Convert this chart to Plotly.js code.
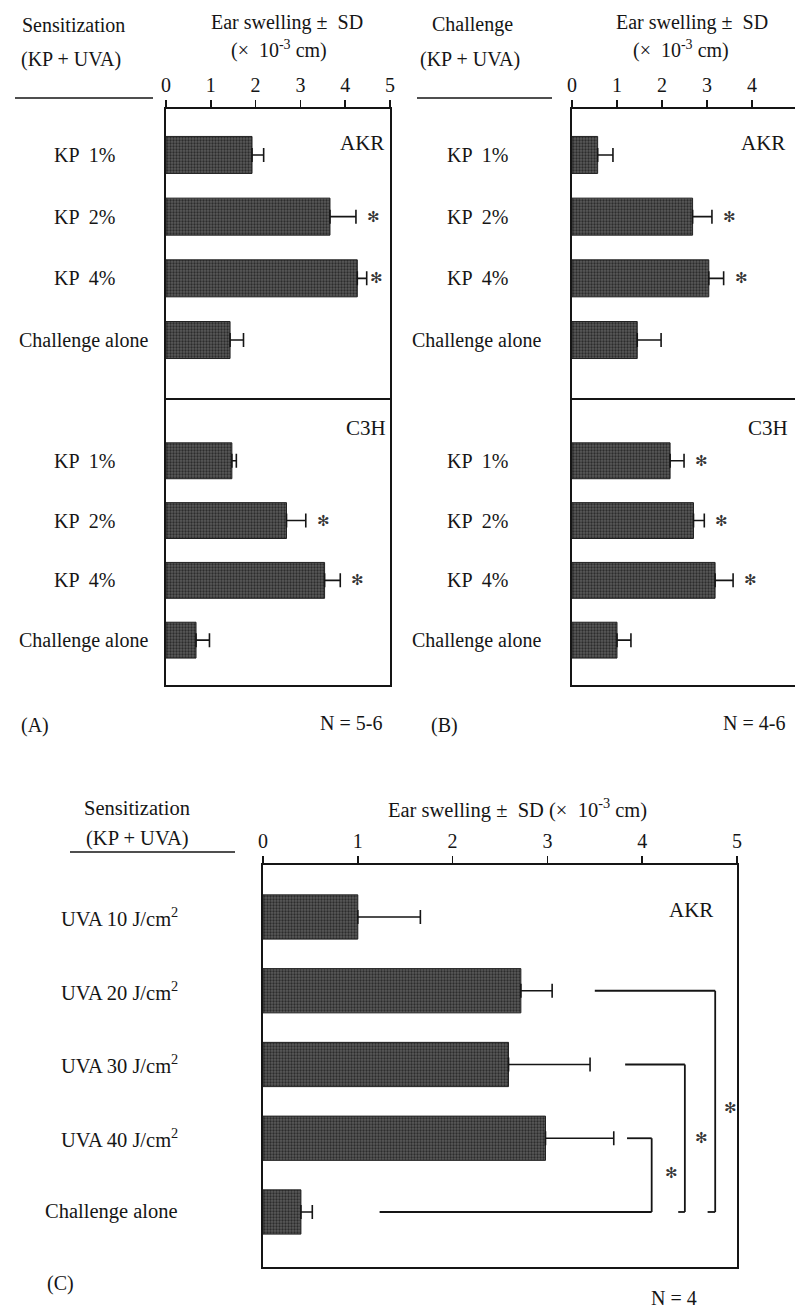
<!DOCTYPE html>
<html><head><meta charset="utf-8">
<script src="https://cdn.plot.ly/plotly-3.0.1.min.js"></script>
<style>html,body{margin:0;padding:0;background:#fff}</style>
</head><body><div id="chart" style="width:795px;height:1308px"></div>
<script>
// ---------- data ----------
const kpCategories = ['KP  1%', 'KP  2%', 'KP  4%', 'Challenge alone'];
const uvaCategories = ['UVA 10 J/cm<sup>2</sup>', 'UVA 20 J/cm<sup>2</sup>', 'UVA 30 J/cm<sup>2</sup>', 'UVA 40 J/cm<sup>2</sup>', 'Challenge alone'];
const xTicks = [0, 1, 2, 3, 4, 5];

// Panel A (sensitization)
const aAkrMean = [1.92, 3.66, 4.27, 1.43];
const aAkrSD   = [0.26, 0.58, 0.21, 0.30];
const aAkrSig  = [false, true, true, false];
const aC3hMean = [1.47, 2.69, 3.54, 0.67];
const aC3hSD   = [0.10, 0.43, 0.35, 0.30];
const aC3hSig  = [false, true, true, false];
// Panel B (challenge)
const bAkrMean = [0.57, 2.68, 3.04, 1.45];
const bAkrSD   = [0.34, 0.43, 0.33, 0.53];
const bAkrSig  = [false, true, true, false];
const bC3hMean = [2.18, 2.70, 3.18, 1.00];
const bC3hSD   = [0.31, 0.24, 0.40, 0.31];
const bC3hSig  = [true, true, true, false];
// Panel C (UVA dose)
const cMean = [1.00, 2.72, 2.59, 2.98, 0.40];
const cSD   = [0.66, 0.33, 0.86, 0.72, 0.12];
// Panel C comparisons vs "Challenge alone"
const cCompFrom = ['UVA 20 J/cm<sup>2</sup>', 'UVA 30 J/cm<sup>2</sup>', 'UVA 40 J/cm<sup>2</sup>'];
const cCompTo = 'Challenge alone';

// ---------- layout helpers ----------
const W = 795, H = 1308;
const fx = p => p / W;
const fy = p => 1 - p / H;
const FONT = 'Liberation Serif, Times New Roman, serif';
const INK = '#151515';
const BAR = '#4e4e4e';

function barTrace(cats, mean, sd, xa, ya) {
  return {
    type: 'bar', orientation: 'h', x: mean, y: cats, xaxis: xa, yaxis: ya,
    width: 0.6,
    marker: { color: BAR, line: { color: '#222', width: 1 },
      pattern: { shape: '.', fgcolor: '#2c2c2c', bgcolor: '#5a5a5a', size: 3, solidity: 0.45 } },
    error_x: { type: 'data', symmetric: false, array: sd, arrayminus: sd.map(() => 0),
      color: INK, thickness: 1.6, width: 7 },
    hoverinfo: 'skip', showlegend: false
  };
}

const data = [
  barTrace(kpCategories, aAkrMean, aAkrSD, 'x', 'y'),
  barTrace(kpCategories, aC3hMean, aC3hSD, 'x2', 'y2'),
  barTrace(kpCategories, bAkrMean, bAkrSD, 'x3', 'y3'),
  barTrace(kpCategories, bC3hMean, bC3hSD, 'x4', 'y4'),
  barTrace(uvaCategories, cMean, cSD, 'x5', 'y5')
];

function xAxis(domain, range, anchor, top) {
  const vals = xTicks.filter(v => v <= range[1] + 1e-9);
  const ax = {
    domain: domain, range: range, anchor: anchor, side: top ? 'top' : 'bottom',
    showline: true, mirror: !!top, linecolor: INK, linewidth: 1.6,
    showgrid: false, zeroline: false, fixedrange: true
  };
  if (top) {
    Object.assign(ax, {
      tickmode: 'array', tickvals: vals, ticktext: vals.map(String),
      showticklabels: true, ticks: 'outside', ticklen: 7, tickwidth: 1.5, tickcolor: INK,
      tickfont: { family: FONT, size: 20, color: INK }
    });
  } else {
    Object.assign(ax, { showticklabels: false, ticks: '', tickmode: 'array', tickvals: [] });
  }
  return ax;
}
function yAxis(domain, range, anchor, cats) {
  return {
    domain: domain, range: range, anchor: anchor, type: 'category',
    categoryorder: 'array', categoryarray: cats,
    showticklabels: false, ticks: '',
    showline: true, mirror: true, linecolor: INK, linewidth: 1.6,
    showgrid: false, zeroline: false, fixedrange: true
  };
}

const layout = {
  width: W, height: H,
  margin: { l: 0, r: 0, t: 0, b: 0, pad: 0 },
  paper_bgcolor: '#fff', plot_bgcolor: 'rgba(0,0,0,0)',
  bargap: 0.4,
  xaxis:  xAxis([fx(166), fx(390)], [0, 5], 'y', true),
  yaxis:  yAxis([fy(398), fy(109)], [3.94, -0.745], 'x', kpCategories),
  xaxis2: xAxis([fx(166), fx(390)], [0, 5], 'y2', false),
  yaxis2: yAxis([fy(685), fy(398)], [3.75, -1.05], 'x2', kpCategories),
  xaxis3: xAxis([fx(572), 1], [0, 4.956], 'y3', true),
  yaxis3: yAxis([fy(398), fy(109)], [3.94, -0.745], 'x3', kpCategories),
  xaxis4: xAxis([fx(572), 1], [0, 4.956], 'y4', false),
  yaxis4: yAxis([fy(685), fy(398)], [3.75, -1.05], 'x4', kpCategories),
  xaxis5: xAxis([fx(263), fx(737)], [0, 5], 'y5', true),
  yaxis5: yAxis([fy(1267), fy(865)], [4.746, -0.705], 'x5', uvaCategories),
  annotations: [], shapes: []
};
const A = layout.annotations, S = layout.shapes;

function txt(text, x, y, opts) {
  A.push(Object.assign({ text: text, x: x, y: y, xref: 'paper', yref: 'paper', showarrow: false,
    xanchor: 'center', yanchor: 'middle', font: { family: FONT, size: 20, color: INK } }, opts || {}));
}

// category labels
kpCategories.forEach(c => {
  txt(c, fx(84), c, { yref: 'y' });
  txt(c, fx(84), c, { yref: 'y2' });
  txt(c, fx(477), c, { yref: 'y3' });
  txt(c, fx(477), c, { yref: 'y4' });
});
uvaCategories.forEach(c => {
  txt(c, fx(180), c, { yref: 'y5', xanchor: 'right', font: { family: FONT, size: 20.5, color: INK } });
});

// significance stars
function stars(mean, sd, sig, xa, ya, cats, maxX) {
  mean.forEach((m, i) => {
    if (!sig[i]) return;
    A.push({ text: '✻', xref: xa, yref: ya, x: Math.min(m + sd[i] + 0.39, maxX), y: cats[i],
      showarrow: false, xanchor: 'center', yanchor: 'middle',
      font: { family: 'DejaVu Sans', size: 15, color: '#333' } });
  });
}
stars(aAkrMean, aAkrSD, aAkrSig, 'x', 'y', kpCategories, 4.7);
stars(aC3hMean, aC3hSD, aC3hSig, 'x2', 'y2', kpCategories, 4.7);
stars(bAkrMean, bAkrSD, bAkrSig, 'x3', 'y3', kpCategories, 4.7);
stars(bC3hMean, bC3hSD, bC3hSig, 'x4', 'y4', kpCategories, 4.7);

// strain labels
const strainFont = { family: FONT, size: 21, color: INK };
txt('AKR', fx(386), fy(143), { xanchor: 'right', font: strainFont });
txt('C3H', fx(388), fy(428), { xanchor: 'right', font: strainFont });
txt('AKR', fx(787), fy(143), { xanchor: 'right', font: strainFont });
txt('C3H', fx(790), fy(428), { xanchor: 'right', font: strainFont });
txt('AKR', fx(715), fy(910), { xanchor: 'right', font: strainFont });

// headers
txt('Sensitization', fx(73), fy(25));
txt('(KP + UVA)', fx(71), fy(60));
txt('Ear swelling ±  SD', fx(287), fy(22));
txt('(×  10<sup>-3</sup> cm)', fx(279), fy(50));
txt('Challenge', fx(472), fy(25));
txt('(KP + UVA)', fx(470), fy(60));
txt('Ear swelling ±  SD', fx(692), fy(22));
txt('(×  10<sup>-3</sup> cm)', fx(681), fy(50));
txt('Sensitization', fx(137), fy(808), { font: { family: FONT, size: 20.5, color: INK } });
txt('(KP + UVA)', fx(137), fy(838), { font: { family: FONT, size: 20.5, color: INK } });
txt('Ear swelling ±  SD (×  10<sup>-3</sup> cm)', fx(517), fy(808), { font: { family: FONT, size: 20.5, color: INK } });

// underlines
function hline(x0, x1, y) {
  S.push({ type: 'line', xref: 'paper', yref: 'paper', x0: fx(x0), x1: fx(x1), y0: fy(y), y1: fy(y),
    line: { color: INK, width: 1.6 } });
}
hline(15, 153, 98);
hline(417, 552, 98);
hline(70, 235, 852);

// footers
txt('(A)', fx(35), fy(725));
txt('N = 5-6', fx(351), fy(723));
txt('(B)', fx(444), fy(725));
txt('N = 4-6', fx(754), fy(723));
txt('(C)', fx(60), fy(1283));
txt('N = 4', fx(674), fy(1298));

// Panel C brackets
const brTop  = [3.50, 3.82, 3.84];
const brV    = [4.77, 4.45, 4.10];
const brFoot = [4.69, 4.38, 1.23];
const brStarX = [4.93, 4.63, 4.31];
const brStarY = [2.59, 3.0, 3.47];
function seg(x0, y0, x1, y1) {
  S.push({ type: 'line', xref: 'x5', yref: 'y5', x0: x0, y0: y0, x1: x1, y1: y1,
    line: { color: INK, width: 1.8 } });
}
cCompFrom.forEach((c, i) => {
  seg(brTop[i], c, brV[i], c);
  seg(brV[i], c, brV[i], cCompTo);
  seg(brFoot[i], cCompTo, brV[i], cCompTo);
  A.push({ text: '✻', xref: 'x5', yref: 'y5', x: brStarX[i], y: brStarY[i], showarrow: false,
    font: { family: 'DejaVu Sans', size: 15, color: '#333' } });
});

Plotly.newPlot('chart', data, layout, { staticPlot: true, displayModeBar: false });
</script>
</body></html>
